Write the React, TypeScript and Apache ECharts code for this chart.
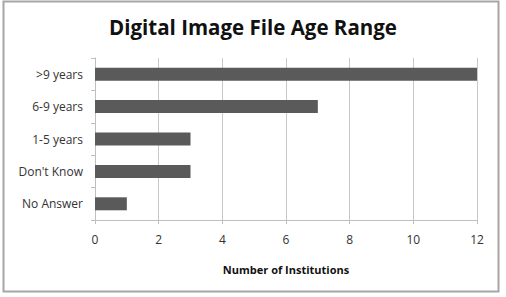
import React, { useEffect, useRef } from "react";
import * as echarts from "echarts";

const categories = [">9 years", "6-9 years", "1-5 years", "Don't Know", "No Answer"];
const values = [12, 7, 3, 3, 1];
const xTicks = [0, 2, 4, 6, 8, 10, 12];

export default function App() {
  const ref = useRef<HTMLDivElement>(null);
  useEffect(() => {
    if (!ref.current) return;
    const chart = echarts.init(ref.current, null, { renderer: "svg" });
    const font = "Open Sans, Lato, sans-serif";
    chart.setOption({
      animation: false,
      backgroundColor: "#ffffff",
      title: {
        text: "Digital Image File Age Range",
        left: "center",
        top: 11,
        textStyle: { fontFamily: font, fontWeight: "bold", fontSize: 20.5, color: "#111" },
      },
      graphic: [
        {
          type: "rect",
          shape: { x: 3.5, y: 1.5, width: 495, height: 290 },
          style: { fill: "none", stroke: "#a6a6a6", lineWidth: 2 },
          silent: true,
        },
      ],
      grid: { left: 95, right: 29, top: 58, bottom: 77 },
      xAxis: {
        type: "value",
        min: xTicks[0],
        max: xTicks[xTicks.length - 1],
        interval: 2,
        name: "Number of Institutions",
        nameLocation: "middle",
        nameGap: 44,
        nameTextStyle: { fontFamily: font, fontWeight: "bold", fontSize: 11, color: "#111" },
        axisLine: { show: true, lineStyle: { color: "#bfbfbf" } },
        axisTick: { show: true, length: 4, lineStyle: { color: "#bfbfbf" } },
        axisLabel: { fontFamily: font, fontSize: 12, color: "#333", margin: 13 },
        splitLine: { show: true, lineStyle: { color: "#c8c8c8" } },
      },
      yAxis: {
        type: "category",
        data: categories,
        inverse: true,
        axisLine: { show: true, lineStyle: { color: "#bfbfbf" } },
        axisTick: { show: true, length: 4, lineStyle: { color: "#bfbfbf" } },
        axisLabel: { fontFamily: font, fontSize: 12, color: "#333", margin: 12 },
      },
      series: [
        {
          type: "bar",
          data: values,
          barWidth: 13,
          itemStyle: { color: "#5a5a5a" },
        },
      ],
    });
    return () => chart.dispose();
  }, []);
  return (
    <div
      ref={ref}
      style={{ position: "fixed", left: 0, top: 0, width: 506, height: 297 }}
    />
  );
}
